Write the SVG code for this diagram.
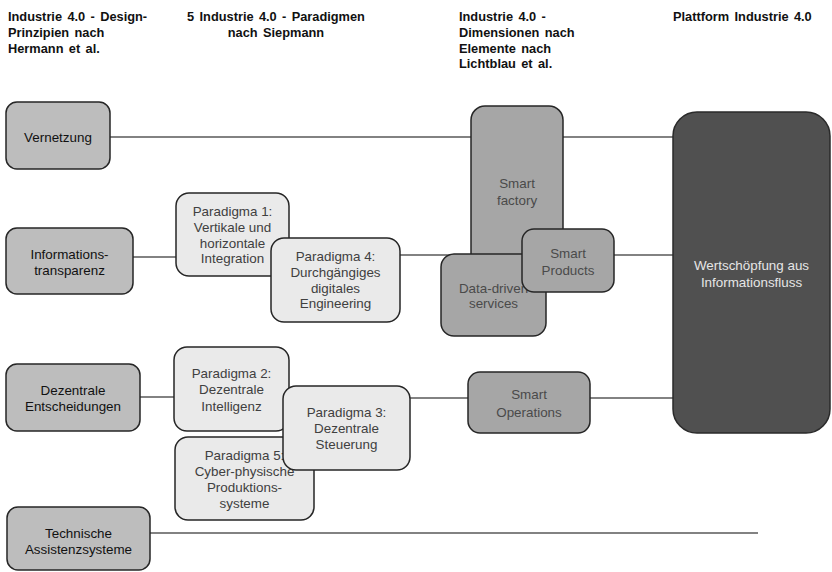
<svg xmlns="http://www.w3.org/2000/svg" width="832" height="572" viewBox="0 0 832 572">
<style>
  .hdr { font-family: "Liberation Sans", Arial, sans-serif; font-size: 12.8px; font-weight: bold; fill: #111; word-spacing: 1.8px; }
  .t { font-family: "Liberation Sans", Arial, sans-serif; font-size: 13.4px; text-anchor: middle; }
  .principle rect { fill: #bdbdbd; stroke: #262626; stroke-width: 1.5; }
  .principle text { fill: #111; }
  .paradigm rect { fill: #eaeaea; stroke: #262626; stroke-width: 1.5; }
  .paradigm text { fill: #404040; }
  .smart rect { fill: #a6a6a6; stroke: #262626; stroke-width: 1.5; }
  .smart text { fill: #4a4a4a; }
  .platform rect { fill: #505050; stroke: #2a2a2a; stroke-width: 1.5; }
  .platform text { fill: #e6e6e6; }
  .conn line { stroke: #595959; stroke-width: 1.5; fill: none; }
</style>

<g id="headers">
  <text class="hdr" x="8" y="21">Industrie 4.0 - Design-</text>
  <text class="hdr" x="8" y="37">Prinzipien nach</text>
  <text class="hdr" x="8" y="53">Hermann et al.</text>
  <text class="hdr" x="276" y="21" text-anchor="middle">5 Industrie 4.0 - Paradigmen</text>
  <text class="hdr" x="276" y="37" text-anchor="middle">nach Siepmann</text>
  <text class="hdr" x="459" y="21">Industrie 4.0 -</text>
  <text class="hdr" x="459" y="37">Dimensionen nach</text>
  <text class="hdr" x="459" y="53">Elemente nach</text>
  <text class="hdr" x="459" y="68">Lichtblau et al.</text>
  <text class="hdr" x="673" y="21">Plattform Industrie 4.0</text>
</g>

<g id="connectors" class="conn">
  <line x1="110" y1="137" x2="673" y2="137"/>
  <line x1="133" y1="257" x2="176" y2="257"/>
  <line x1="400" y1="255" x2="673" y2="255"/>
  <line x1="140" y1="397" x2="174" y2="397"/>
  <line x1="410" y1="398" x2="673" y2="398"/>
  <line x1="150" y1="533" x2="758" y2="533"/>
</g>

<g id="vernetzung" class="principle">
  <rect x="6" y="102" width="104" height="67" rx="11"/>
  <text class="t" x="58" y="142">Vernetzung</text>
</g>
<g id="informationstransparenz" class="principle">
  <rect x="6" y="228" width="127" height="66" rx="11"/>
  <text class="t" x="69.5" y="259">Informations-</text>
  <text class="t" x="69.5" y="275">transparenz</text>
</g>
<g id="dezentrale-entscheidungen" class="principle">
  <rect x="6" y="364" width="134" height="67" rx="11"/>
  <text class="t" x="73" y="394.5">Dezentrale</text>
  <text class="t" x="73" y="410.5">Entscheidungen</text>
</g>
<g id="technische-assistenzsysteme" class="principle">
  <rect x="7" y="507" width="143" height="63" rx="11"/>
  <text class="t" x="78.5" y="537.5">Technische</text>
  <text class="t" x="78.5" y="553.5">Assistenzsysteme</text>
</g>

<g id="paradigma1" class="paradigm">
  <rect x="176" y="193" width="113" height="83" rx="13"/>
  <text class="t" x="232.5" y="215.5">Paradigma 1:</text>
  <text class="t" x="232.5" y="231.5">Vertikale und</text>
  <text class="t" x="232.5" y="247.5">horizontale</text>
  <text class="t" x="232.5" y="263">Integration</text>
</g>
<g id="paradigma4" class="paradigm">
  <rect x="271" y="238" width="129" height="84" rx="13"/>
  <text class="t" x="335.5" y="260.5">Paradigma 4:</text>
  <text class="t" x="335.5" y="276.5">Durchgängiges</text>
  <text class="t" x="335.5" y="292.5">digitales</text>
  <text class="t" x="335.5" y="308">Engineering</text>
</g>
<g id="paradigma2" class="paradigm">
  <rect x="174" y="347" width="115" height="84" rx="13"/>
  <text class="t" x="231.5" y="377.5">Paradigma 2:</text>
  <text class="t" x="231.5" y="394">Dezentrale</text>
  <text class="t" x="231.5" y="410.5">Intelligenz</text>
</g>
<g id="paradigma5" class="paradigm">
  <rect x="175" y="437" width="139" height="83" rx="13"/>
  <text class="t" x="244.5" y="459.5">Paradigma 5:</text>
  <text class="t" x="244.5" y="475.5">Cyber-physische</text>
  <text class="t" x="244.5" y="491.5">Produktions-</text>
  <text class="t" x="244.5" y="507.5">systeme</text>
</g>
<g id="paradigma3" class="paradigm">
  <rect x="283" y="386" width="127" height="84" rx="13"/>
  <text class="t" x="346.5" y="417">Paradigma 3:</text>
  <text class="t" x="346.5" y="433">Dezentrale</text>
  <text class="t" x="346.5" y="449">Steuerung</text>
</g>

<g id="smart-factory" class="smart">
  <rect x="471" y="106" width="92" height="172" rx="14"/>
  <text class="t" x="517" y="187.5">Smart</text>
  <text class="t" x="517" y="205">factory</text>
</g>
<g id="data-driven-services" class="smart">
  <rect x="441" y="254" width="105" height="82" rx="13"/>
  <text class="t" x="493.5" y="292.5">Data-driven</text>
  <text class="t" x="493.5" y="308">services</text>
</g>
<g id="smart-products" class="smart">
  <rect x="522" y="229" width="92" height="63" rx="12"/>
  <text class="t" x="568" y="257.5">Smart</text>
  <text class="t" x="568" y="274.5">Products</text>
</g>
<g id="smart-operations" class="smart">
  <rect x="468" y="372" width="122" height="61" rx="12"/>
  <text class="t" x="529" y="398.5">Smart</text>
  <text class="t" x="529" y="416.5">Operations</text>
</g>

<g id="wertschoepfung" class="platform">
  <rect x="673" y="112" width="157" height="321" rx="24"/>
  <text class="t" x="751.5" y="269.5">Wertschöpfung aus</text>
  <text class="t" x="751.5" y="286.5">Informationsfluss</text>
</g>
</svg>
